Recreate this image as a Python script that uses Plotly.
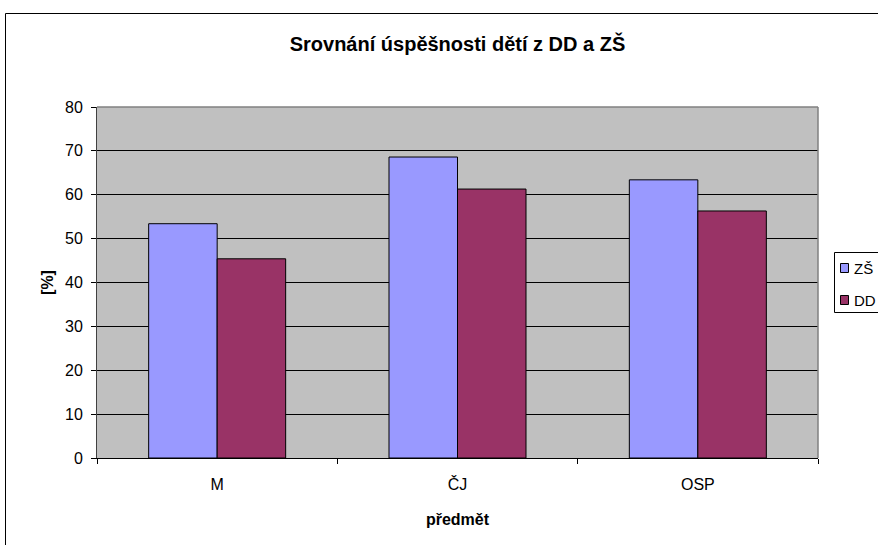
import plotly.graph_objects as go

categories = ["M", "ČJ", "OSP"]
zs_values = [53.4, 68.6, 63.4]
dd_values = [45.4, 61.3, 56.3]
y_ticks = [0, 10, 20, 30, 40, 50, 60, 70, 80]
series_names = ["ZŠ", "DD"]
series_colors = ["#9999FF", "#993366"]

W, H = 878, 545
L, R, T, B = 97, 60, 107, 87

fig = go.Figure()
for name, vals, col in zip(series_names, [zs_values, dd_values], series_colors):
    fig.add_trace(go.Bar(x=categories, y=vals, name=name, showlegend=False,
                         marker=dict(color=col, line=dict(color="black", width=1))))

pw = W - L - R
ph = H - T - B


def px_x(x):
    return (x - L) / pw


def px_y(y):
    return (H - B - y) / ph


shapes = [
    # outer chart frame (cut off at the right and bottom like the original)
    dict(type="rect", xref="paper", yref="paper",
         x0=px_x(5.5), x1=px_x(W + 20), y0=px_y(H + 20), y1=px_y(13.5),
         line=dict(color="black", width=1), fillcolor="rgba(0,0,0,0)", layer="below"),
    # plot area border top and right
    dict(type="line", xref="paper", yref="paper", x0=0, x1=1, y0=1, y1=1,
         line=dict(color="#808080", width=1.5), layer="above"),
    dict(type="line", xref="paper", yref="paper", x0=1, x1=1, y0=0, y1=1,
         line=dict(color="#808080", width=1.5), layer="above"),
    # legend box
    dict(type="rect", xref="paper", yref="paper",
         x0=px_x(834.5), x1=px_x(W + 20), y0=px_y(312.5), y1=px_y(252.5),
         line=dict(color="black", width=1), fillcolor="white", layer="above"),
]
annotations = []
for i, (name, col) in enumerate(zip(series_names, series_colors)):
    cy = 268 + i * 32
    shapes.append(dict(type="rect", xref="paper", yref="paper",
                       x0=px_x(840.5), x1=px_x(848.5), y0=px_y(cy + 4.5), y1=px_y(cy - 4.5),
                       line=dict(color="black", width=1), fillcolor=col, layer="above"))
    annotations.append(dict(text=name, xref="paper", yref="paper", x=px_x(852), y=px_y(cy),
                            xanchor="left", yanchor="middle", showarrow=False,
                            font=dict(size=15)))

fig.update_layout(
    width=W, height=H,
    margin=dict(l=L, r=R, t=T, b=B, autoexpand=False),
    paper_bgcolor="white",
    plot_bgcolor="#C0C0C0",
    font=dict(family="Liberation Sans, Arial, sans-serif", size=16, color="black"),
    barmode="group",
    bargap=0.43,
    bargroupgap=0,
    title=dict(text="<b>Srovnání úspěšnosti dětí z DD a ZŠ</b>",
               x=0.5, xref="paper", xanchor="center",
               y=1 - 44 / H, yref="container", yanchor="middle",
               font=dict(size=20)),
    showlegend=False,
    shapes=shapes,
    annotations=annotations,
)

fig.update_yaxes(
    range=[0, 80], tickvals=y_ticks, showgrid=True, gridcolor="black", gridwidth=1,
    showline=True, linecolor="#404040", linewidth=1,
    ticks="outside", ticklen=5, tickcolor="black", ticklabelstandoff=5,
    zeroline=False, tickfont=dict(size=16),
    title=dict(text="<b>[%]</b>", font=dict(size=16), standoff=7),
)
fig.update_xaxes(
    showline=True, linecolor="black", linewidth=1,
    ticks="outside", ticklen=5, tickcolor="black", tickson="boundaries",
    ticklabelstandoff=12,
    showgrid=False, tickfont=dict(size=16),
    title=dict(text="<b>předmět</b>", font=dict(size=16), standoff=21),
)

# page body has a default 8px margin; drop it so the figure sits at the top-left
fig.write_html("out.html", config={"displayModeBar": False},
               post_script="document.body.style.margin='0';")
